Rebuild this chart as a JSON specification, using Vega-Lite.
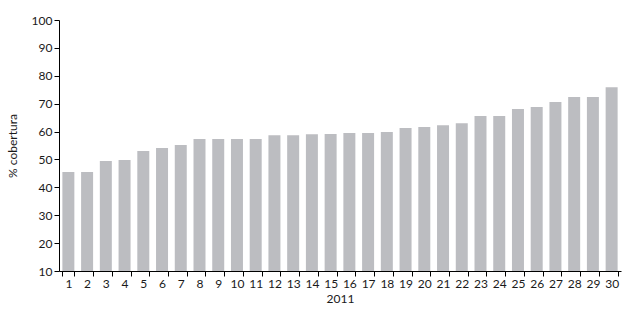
{
  "$schema": "https://vega.github.io/schema/vega-lite/v6.json",
  "autosize": {"type": "none"},
  "width": 562,
  "height": 251,
  "padding": {"left": 59, "top": 20, "right": 12, "bottom": 42},
  "background": "white",
  "config": {
    "view": {"stroke": null},
    "font": "Lato",
    "axis": {
      "grid": false,
      "domainColor": "#000000",
      "tickColor": "#000000",
      "labelColor": "#1a1a1a",
      "titleColor": "#1a1a1a",
      "labelFont": "Lato",
      "titleFont": "Lato",
      "labelFontSize": 12,
      "titleFontSize": 12,
      "titleFontWeight": "normal",
      "tickSize": 5,
      "domainWidth": 1,
      "tickWidth": 1
    }
  },
  "data": {
    "values": [
      {"n": "1", "v": 45.5},
      {"n": "2", "v": 45.5},
      {"n": "3", "v": 49.4},
      {"n": "4", "v": 49.8},
      {"n": "5", "v": 53.0},
      {"n": "6", "v": 54.1},
      {"n": "7", "v": 55.2},
      {"n": "8", "v": 57.3},
      {"n": "9", "v": 57.3},
      {"n": "10", "v": 57.3},
      {"n": "11", "v": 57.3},
      {"n": "12", "v": 58.7},
      {"n": "13", "v": 58.7},
      {"n": "14", "v": 59.0},
      {"n": "15", "v": 59.1},
      {"n": "16", "v": 59.5},
      {"n": "17", "v": 59.5},
      {"n": "18", "v": 59.8},
      {"n": "19", "v": 61.3},
      {"n": "20", "v": 61.6},
      {"n": "21", "v": 62.3},
      {"n": "22", "v": 63.0},
      {"n": "23", "v": 65.6},
      {"n": "24", "v": 65.6},
      {"n": "25", "v": 68.1},
      {"n": "26", "v": 68.8},
      {"n": "27", "v": 70.6},
      {"n": "28", "v": 72.4},
      {"n": "29", "v": 72.4},
      {"n": "30", "v": 75.9}
    ]
  },
  "mark": {"type": "bar", "color": "#bcbdc1", "clip": true},
  "encoding": {
    "x": {
      "field": "n",
      "type": "ordinal",
      "sort": null,
      "scale": {"paddingInner": 0.36, "paddingOuter": 0.18},
      "axis": {
        "title": "2011",
        "labelAngle": 0,
        "tickBand": "extent",
        "labelPadding": 2,
        "titlePadding": 4
      }
    },
    "y": {
      "field": "v",
      "type": "quantitative",
      "scale": {"domain": [10, 100], "zero": false, "nice": false},
      "axis": {
        "title": "% cobertura",
        "values": [10, 20, 30, 40, 50, 60, 70, 80, 90, 100],
        "labelPadding": 2,
        "titlePadding": 12
      }
    }
  }
}
